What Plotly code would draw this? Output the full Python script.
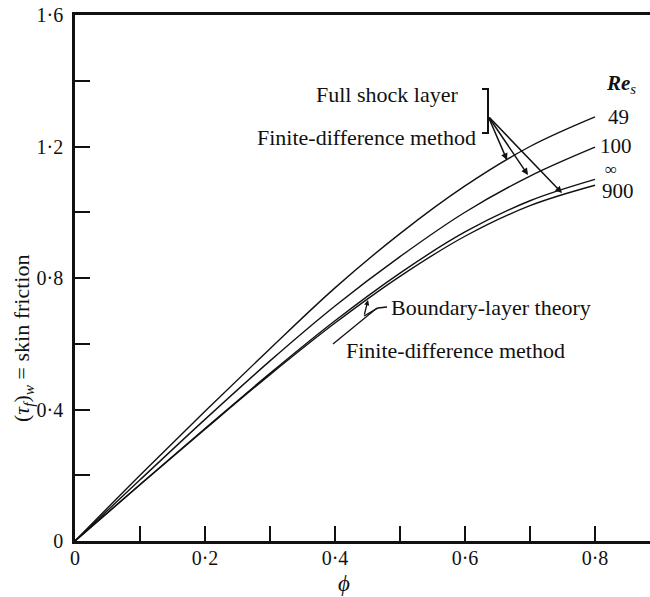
import plotly.graph_objects as go

# Skin friction along the body for several shock Reynolds numbers
phi = [0.0, 0.1, 0.2, 0.3, 0.4, 0.5, 0.6, 0.7, 0.8]
tau_re49 = [0.0, 0.200, 0.395, 0.585, 0.770, 0.935, 1.080, 1.200, 1.290]
tau_re100 = [0.0, 0.186, 0.370, 0.548, 0.715, 0.865, 1.000, 1.110, 1.198]
tau_re_inf = [0.0, 0.172, 0.342, 0.510, 0.670, 0.815, 0.940, 1.035, 1.100]
tau_re900 = [0.0, 0.171, 0.340, 0.506, 0.663, 0.805, 0.927, 1.020, 1.082]

x_tickvals = [0.0, 0.1, 0.2, 0.3, 0.4, 0.5, 0.6, 0.7, 0.8]
x_ticktext = ["0", "", "0·2", "", "0·4", "", "0·6", "", "0·8"]
y_tickvals = [0.0, 0.2, 0.4, 0.6, 0.8, 1.0, 1.2, 1.4, 1.6]
y_ticktext = ["0", "", "0·4", "", "0·8", "", "1·2", "", "1·6"]

FONT = "Liberation Serif"
INK = "#111111"

# pixel -> data helpers for placing the hand-drawn annotation work
X0, XS = 75.0, 650.0
Y0, YS = 541.0, 328.75
PLOT_W = 650 - X0


def dx(px):
    return (px - X0) / XS


def dy(py):
    return (Y0 - py) / YS


fig = go.Figure()
for series in (tau_re49, tau_re100, tau_re_inf, tau_re900):
    fig.add_trace(go.Scatter(
        x=phi, y=series, mode="lines",
        line=dict(color=INK, width=1.4, shape="spline", smoothing=1.0),
        showlegend=False, hoverinfo="skip",
    ))

annotations = []


def label(text, px, py, anchor="left", size=22, angle=0):
    annotations.append(dict(
        x=dx(px), y=dy(py), xref="x", yref="y", text=text, showarrow=False,
        xanchor=anchor, yanchor="middle", textangle=angle,
        font=dict(family=FONT, size=size, color=INK),
    ))


def arrow(tail, head, width=1.5, size=0.9):
    annotations.append(dict(
        x=dx(head[0]), y=dy(head[1]), ax=dx(tail[0]), ay=dy(tail[1]),
        xref="x", yref="y", axref="x", ayref="y", text="", showarrow=True,
        arrowhead=2, arrowsize=size, arrowwidth=width, arrowcolor=INK,
    ))


label("Full shock layer", 460, 94, anchor="right")
label("Finite-difference method", 478, 137, anchor="right")
label("<b><i>Re</i></b><sub><i>s</i></sub>", 604, 84, size=21)
label("49", 606, 117, size=21)
label("100", 598, 146, size=21)
label("∞", 603, 169, size=17)
label("900", 600, 191, size=21)
label("Boundary-layer theory", 389, 307)
label("Finite-difference method", 344, 350)

for tip in ((507, 160), (528, 175), (562, 193)):
    arrow((488, 116), tip)
arrow((364, 316), (368, 300), width=1.3, size=0.8)

# y-axis title sits left of the plot area, so it is placed in paper units
annotations.append(dict(
    x=(23 - X0) / PLOT_W, y=dy(339), xref="paper", yref="y",
    text="(<i>τ</i><sub><i>f</i></sub>)<sub><i>w</i></sub> = skin friction",
    showarrow=False, textangle=-90, xanchor="center", yanchor="middle",
    font=dict(family=FONT, size=22, color=INK),
))
annotations.append(dict(
    x=dx(344), y=(Y0 - 583) / (Y0 - 15), xref="x", yref="paper", text="<i>ϕ</i>",
    showarrow=False, xanchor="center", yanchor="middle",
    font=dict(family=FONT, size=23, color=INK),
))

shapes = [
    # bracket grouping the two upper labels
    dict(type="path", xref="x", yref="y",
         path=f"M {dx(482)},{dy(89)} L {dx(488)},{dy(89)} L {dx(488)},{dy(133)} L {dx(482)},{dy(133)}",
         line=dict(color=INK, width=2)),
    # leaders of the lower labels
    dict(type="path", xref="x", yref="y",
         path=f"M {dx(387)},{dy(307)} L {dx(378)},{dy(308)} L {dx(364)},{dy(316)}",
         line=dict(color=INK, width=1.3)),
    dict(type="line", xref="x", yref="y", x0=dx(377), y0=dy(308), x1=dx(333), y1=dy(344),
         line=dict(color=INK, width=1.3)),
]

axis_common = dict(
    showgrid=False, zeroline=False, showline=True, linecolor=INK, linewidth=2.5,
    ticks="inside", ticklen=15, tickwidth=2, tickcolor=INK,
    tickfont=dict(family=FONT, size=20, color=INK), tickmode="array",
)

fig.update_layout(
    width=650, height=597,
    margin=dict(l=75, r=0, t=15, b=56),
    paper_bgcolor="white", plot_bgcolor="white",
    xaxis=dict(range=[0, PLOT_W / XS], tickvals=x_tickvals, ticktext=x_ticktext,
               mirror=True, ticklabelstandoff=-3, **axis_common),
    yaxis=dict(range=[0, 1.6], tickvals=y_tickvals, ticktext=y_ticktext,
               ticklabelstandoff=5, **axis_common),
    annotations=annotations, shapes=shapes,
)

fig.write_html("out.html")
